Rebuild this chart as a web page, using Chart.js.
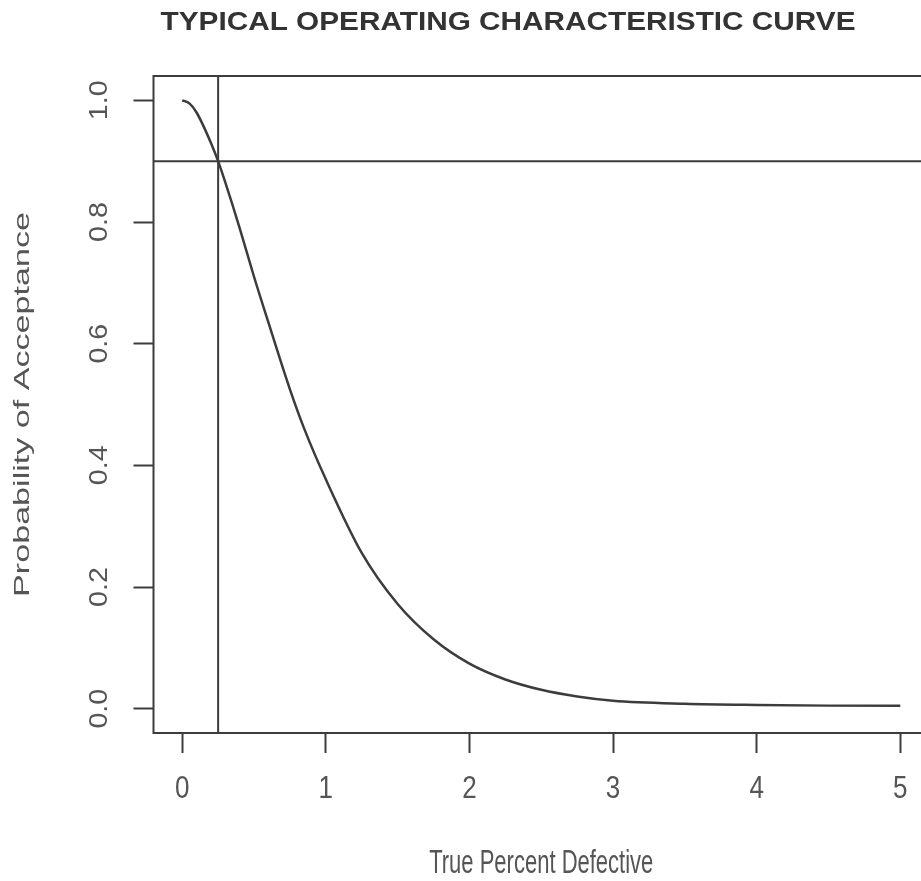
<!DOCTYPE html>
<html>
<head>
<meta charset="utf-8">
<title>Typical Operating Characteristic Curve</title>
<script src="https://cdn.jsdelivr.net/npm/chart.js@4.4.1/dist/chart.umd.min.js"></script>
<style>
  html, body { margin: 0; padding: 0; background: #fff; overflow: hidden; }
  #wrap { width: 940px; height: 881px; }
</style>
</head>
<body>
<div id="wrap"><canvas id="ocChart" width="940" height="881"></canvas></div>
<script>
// values
const pctDefective = [0, 0.05, 0.1, 0.2, 0.25, 0.3, 0.4, 0.5, 0.6, 0.75, 0.85, 1.0, 1.25, 1.5, 1.75, 2.0, 2.25, 2.5, 2.75, 3.0, 3.5, 4.0, 4.5, 5.0];
const probAccept = [1.0, 0.995, 0.98, 0.93, 0.90, 0.865, 0.79, 0.71, 0.635, 0.525, 0.46, 0.377, 0.256, 0.172, 0.114, 0.074, 0.048, 0.031, 0.02, 0.013, 0.008, 0.006, 0.005, 0.005];
const refX = 0.25;   // vertical reference line
const refY = 0.9;    // horizontal reference line
const xTicks = [0, 1, 2, 3, 4, 5];
const yTicks = [0, 0.2, 0.4, 0.6, 0.8, 1.0];
const xRange = [-0.2, 5.2];
const yRange = [-0.04, 1.04];

const titleText = 'TYPICAL OPERATING CHARACTERISTIC CURVE';
const xTitle = 'True Percent Defective';
const yTitle = 'Probability of Acceptance';
const ink = '#3c3c3c';
const textInk = '#555';
const FONT = '"Liberation Sans", Arial, sans-serif';

// text drawn with a vertical stretch, like the scanned original
function label(ctx, txt, x, y, size, sx, sy, rotated, bold) {
  ctx.save();
  ctx.font = (bold ? 'bold ' : '') + size + 'px ' + FONT;
  ctx.textAlign = 'center';
  ctx.textBaseline = 'middle';
  ctx.translate(x, y);
  if (rotated) {
    ctx.rotate(-Math.PI / 2);
    ctx.scale(sy, sx);
  } else {
    ctx.scale(sx, sy);
  }
  ctx.fillText(txt, 0, 0);
  ctx.restore();
}

const rStyle = {
  id: 'rStyle',
  afterDraw(chart) {
    const ctx = chart.ctx;
    const a = chart.chartArea;
    const xs = chart.scales.x;
    const ys = chart.scales.y;
    ctx.save();
    ctx.strokeStyle = ink;
    ctx.lineWidth = 2;
    ctx.strokeRect(a.left, a.top, a.right - a.left, a.bottom - a.top);
    ctx.fillStyle = textInk;

    xTicks.forEach(v => label(ctx, String(v), xs.getPixelForValue(v), 789, 26, 1, 1.2, false, false));
    yTicks.forEach(v => label(ctx, v.toFixed(1), 100, ys.getPixelForValue(v), 26, 1, 1.1, true, false));

    label(ctx, xTitle, (a.left + a.right) / 2, 864, 22, 1, 1.5, false, false);
    label(ctx, yTitle, 23, (a.top + a.bottom) / 2, 22, 1, 1.55, true, false);

    // main title, fitted to the width it has in the reference
    ctx.font = 'bold 26px ' + FONT;
    const w = ctx.measureText(titleText).width;
    ctx.fillStyle = '#333';
    label(ctx, titleText, 508, 23, 26, 695 / w, 1, false, true);
    ctx.restore();
  }
};

const ctx = document.getElementById('ocChart').getContext('2d');
new Chart(ctx, {
  type: 'line',
  data: {
    datasets: [
      {
        label: 'OC curve',
        data: pctDefective.map((p, i) => ({ x: p, y: probAccept[i] })),
        borderColor: ink,
        borderWidth: 2.5,
        pointRadius: 0,
        cubicInterpolationMode: 'monotone',
        fill: false
      },
      {
        label: 'horizontal',
        data: [{ x: xRange[0], y: refY }, { x: xRange[1], y: refY }],
        borderColor: ink,
        borderWidth: 2,
        pointRadius: 0
      },
      {
        label: 'vertical',
        data: [{ x: refX, y: yRange[0] }, { x: refX, y: yRange[1] }],
        borderColor: ink,
        borderWidth: 2,
        pointRadius: 0
      }
    ]
  },
  options: {
    responsive: false,
    animation: false,
    layout: { padding: { top: 76, right: 11, left: 0, bottom: 0 } },
    plugins: {
      legend: { display: false },
      tooltip: { enabled: false },
      title: { display: false }
    },
    scales: {
      x: {
        type: 'linear',
        min: xRange[0],
        max: xRange[1],
        afterBuildTicks: s => { s.ticks = xTicks.map(v => ({ value: v })); },
        afterFit: s => { s.height = 148; },
        grid: { drawOnChartArea: false, drawTicks: true, tickLength: 20, tickWidth: 2, tickColor: ink },
        border: { display: false },
        ticks: { display: false }
      },
      y: {
        type: 'linear',
        min: yRange[0],
        max: yRange[1],
        afterBuildTicks: s => { s.ticks = yTicks.map(v => ({ value: v })); },
        afterFit: s => { s.width = 153.5; },
        grid: { drawOnChartArea: false, drawTicks: true, tickLength: 20, tickWidth: 2, tickColor: ink },
        border: { display: false },
        ticks: { display: false }
      }
    }
  },
  plugins: [rStyle]
});
</script>
</body>
</html>
